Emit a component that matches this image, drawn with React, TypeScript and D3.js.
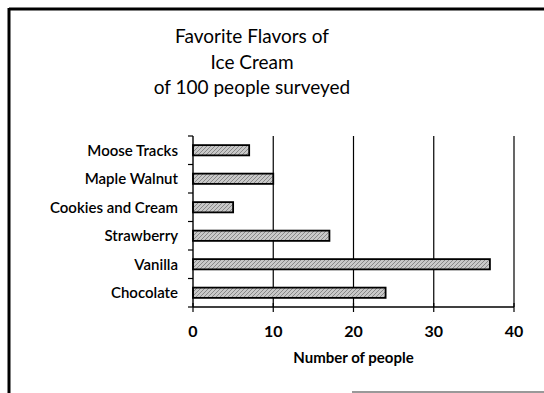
import React, { useEffect, useRef } from "react";
import * as d3 from "d3";

const flavors = ["Moose Tracks", "Maple Walnut", "Cookies and Cream", "Strawberry", "Vanilla", "Chocolate"];
const counts = [7, 10, 5, 17, 37, 24];
const xTicks = [0, 10, 20, 30, 40];
const titleLines = ["Favorite Flavors of", "Ice Cream", "of 100 people surveyed"];
const xTitle = "Number of people";

const App = () => {
  const svgRef = useRef<SVGSVGElement>(null);

  useEffect(() => {
    const svg = d3.select(svgRef.current);
    svg.selectAll("*").remove();

    const font = "Lato, 'Open Sans', sans-serif";
    const margin = { top: 136, left: 193, right: 30, bottom: 86 };
    const width = 544 - margin.left - margin.right;
    const height = 393 - margin.top - margin.bottom;

    // scanned-page frame
    svg.append("line").attr("x1", 9).attr("x2", 544).attr("y1", 9).attr("y2", 9)
      .attr("stroke", "#000").attr("stroke-width", 3);
    svg.append("line").attr("x1", 9).attr("x2", 9).attr("y1", 8).attr("y2", 393)
      .attr("stroke", "#000").attr("stroke-width", 3);
    svg.append("line").attr("x1", 352).attr("x2", 544).attr("y1", 392).attr("y2", 392)
      .attr("stroke", "#999").attr("stroke-width", 2);

    const defs = svg.append("defs");
    const pat = defs.append("pattern").attr("id", "hatch").attr("patternUnits", "userSpaceOnUse")
      .attr("width", 4).attr("height", 4);
    pat.append("rect").attr("width", 4).attr("height", 4).attr("fill", "#c8c8c8");
    pat.append("path").attr("d", "M0,4 L4,0").attr("stroke", "#777").attr("stroke-width", 0.8);

    svg.append("g").selectAll("text").data(titleLines).enter().append("text")
      .attr("x", 252).attr("y", (d, i) => 43 + i * 25.5)
      .attr("text-anchor", "middle").attr("font-family", font).attr("font-size", 19)
      .attr("fill", "#000").text((d) => d);

    const g = svg.append("g").attr("transform", `translate(${margin.left},${margin.top})`);

    const x = d3.scaleLinear().domain([0, 40]).range([0, width]);
    const y = d3.scaleBand().domain(flavors).range([0, height]).paddingInner(0.64).paddingOuter(0.32);

    g.selectAll(".grid").data(xTicks.slice(1)).enter().append("line")
      .attr("x1", (d) => x(d)).attr("x2", (d) => x(d)).attr("y1", 0).attr("y2", height)
      .attr("stroke", "#000").attr("stroke-width", 1.2);

    g.selectAll(".bar").data(counts).enter().append("rect")
      .attr("x", x(0)).attr("y", (d, i) => y(flavors[i])!)
      .attr("width", (d) => x(d)).attr("height", y.bandwidth())
      .attr("fill", "url(#hatch)").attr("stroke", "#000").attr("stroke-width", 1.8);

    // y axis
    g.append("line").attr("x1", 0).attr("x2", 0).attr("y1", 0).attr("y2", height)
      .attr("stroke", "#000").attr("stroke-width", 1.4);
    const yStep = height / flavors.length;
    g.selectAll(".ytick").data(d3.range(flavors.length + 1)).enter().append("line")
      .attr("x1", -5).attr("x2", 0).attr("y1", (d) => d * yStep).attr("y2", (d) => d * yStep)
      .attr("stroke", "#000").attr("stroke-width", 1.2);
    g.selectAll(".ylab").data(flavors).enter().append("text")
      .attr("x", -15).attr("y", (d) => y(d)! + y.bandwidth() / 2)
      .attr("dy", "0.35em").attr("text-anchor", "end")
      .attr("font-family", font).attr("font-size", 15).attr("font-weight", 600)
      .attr("fill", "#000").text((d) => d);

    // x axis
    g.append("line").attr("x1", 0).attr("x2", width).attr("y1", height).attr("y2", height)
      .attr("stroke", "#000").attr("stroke-width", 1.4);
    g.selectAll(".xtick").data(xTicks).enter().append("line")
      .attr("x1", (d) => x(d)).attr("x2", (d) => x(d)).attr("y1", height - 4).attr("y2", height + 5)
      .attr("stroke", "#000").attr("stroke-width", 1.2);
    g.selectAll(".xlab").data(xTicks).enter().append("text")
      .attr("x", (d) => x(d)).attr("y", height + 30)
      .attr("text-anchor", "middle").attr("font-family", font).attr("font-size", 16).attr("font-weight", 700)
      .attr("fill", "#000").text((d) => d);
    g.append("text").attr("x", x(20)).attr("y", height + 56)
      .attr("text-anchor", "middle").attr("font-family", font).attr("font-size", 15).attr("font-weight", 700)
      .attr("fill", "#000").text(xTitle);
  }, []);

  return <svg ref={svgRef} width={544} height={393} style={{ position: "absolute", left: 0, top: 0 }} />;
};

export default App;
